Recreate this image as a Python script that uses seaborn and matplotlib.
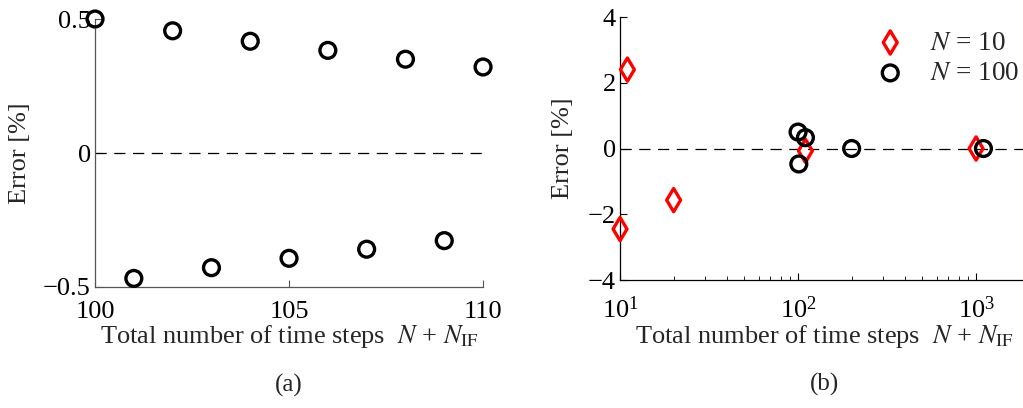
import numpy as np
import pandas as pd
import matplotlib
matplotlib.use("Agg")
import matplotlib.pyplot as plt
import matplotlib.ticker as mticker
import seaborn as sns

# Panel (a): error vs. total number of time steps (N = 100)
steps_a = [100, 101, 102, 103, 104, 105, 106, 107, 108, 109, 110]
error_a = [0.50, -0.468, 0.456, -0.428, 0.417, -0.393, 0.383, -0.359, 0.350, -0.327, 0.321]

# Panel (b): log-scale overview for two values of N
steps_n10 = [10, 11, 20, 110, 1000]
error_n10 = [-2.45, 2.40, -1.57, -0.07, 0.0]
steps_n100 = [100, 101, 110, 200, 1100]
error_n100 = [0.50, -0.47, 0.33, 0.0, 0.0]

sns.set_theme(style="white")
plt.rcParams["font.family"] = ["Liberation Serif", "DejaVu Serif"]
plt.rcParams["mathtext.fontset"] = "stix"

fig = plt.figure(figsize=(10.23, 4.08), dpi=100)
ax_a = fig.add_axes([0.0929, 0.2966, 0.3793, 0.6568])
ax_b = fig.add_axes([0.6061, 0.3137, 0.4004, 0.6446])

xlabel = r"Total number of time steps  $N$ + $N_{\mathrm{IF}}$"
tick_fs = 19
label_fs = 19

# ---- panel (a)
df_a = pd.DataFrame({"steps": steps_a, "error": error_a})
ax_a.axhline(0, color="black", lw=0.9, ls=(0, (9, 6)), zorder=1)
sns.scatterplot(data=df_a, x="steps", y="error", ax=ax_a, marker="o", s=130,
                facecolors="none", edgecolor="black", linewidth=2.4,
                clip_on=False, zorder=3, legend=False)
ax_a.set_xlim(100, 110)
ax_a.set_ylim(-0.5, 0.5)
ax_a.set_xticks([100, 105, 110])
ax_a.set_yticks([-0.5, 0, 0.5])
ax_a.yaxis.set_major_formatter(mticker.FuncFormatter(
    lambda v, p: "0" if abs(v) < 1e-9 else f"{v:.1f}".replace("-", "\u2212")))
ax_a.set_ylabel("Error [%]", fontsize=label_fs, labelpad=9)
ax_a.text(0.5, -0.366, "(a)", transform=ax_a.transAxes, ha="center", va="center",
          fontsize=18)

# ---- panel (b)
df_b = pd.concat([
    pd.DataFrame({"steps": steps_n10, "error": error_n10, "series": "N = 10"}),
    pd.DataFrame({"steps": steps_n100, "error": error_n100, "series": "N = 100"}),
])
ax_b.axhline(0, color="black", lw=0.9, ls=(0, (9, 6)), zorder=1)
sns.scatterplot(data=df_b[df_b.series == "N = 10"], x="steps", y="error", ax=ax_b,
                marker="d", s=140, facecolors="none", edgecolor="red",
                linewidth=2.4, clip_on=False, zorder=3, label=r"$N$ = 10")
sns.scatterplot(data=df_b[df_b.series == "N = 100"], x="steps", y="error", ax=ax_b,
                marker="o", s=130, facecolors="none", edgecolor="black",
                linewidth=2.4, clip_on=False, zorder=3, label=r"$N$ = 100")
ax_b.set_xscale("log")
ax_b.set_xlim(10, 2000)
ax_b.set_ylim(-4, 4)
ax_b.set_xticks([10, 100, 1000])
ax_b.xaxis.set_major_formatter(mticker.LogFormatterMathtext())
ax_b.set_yticks([-4, -2, 0, 2, 4])
ax_b.yaxis.set_major_formatter(mticker.FuncFormatter(
    lambda v, p: f"{int(v)}".replace("-", "\u2212")))
ax_b.set_ylabel("Error [%]", fontsize=label_fs, labelpad=10)
ax_b.text(0.5, -0.399, "(b)", transform=ax_b.transAxes, ha="center", va="center",
          fontsize=18)
leg = ax_b.legend(loc="upper left", bbox_to_anchor=(0.857, 0.925),
                  bbox_transform=fig.transFigure, frameon=False,
                  fontsize=19.5, handlelength=1.0, handletextpad=0.95,
                  labelspacing=0.2, borderpad=0, borderaxespad=0)

for ax, spine_color in ((ax_a, "#555555"), (ax_b, "black")):
    for side in ("top", "right"):
        ax.spines[side].set_visible(False)
    for side in ("left", "bottom"):
        ax.spines[side].set_color(spine_color)
        ax.spines[side].set_linewidth(0.9)
    ax.tick_params(axis="both", which="both", direction="in", labelsize=tick_fs,
                   color=spine_color, labelcolor="black")
    ax.tick_params(which="major", length=5, width=0.8)
    ax.tick_params(which="minor", length=3, width=0.6)
    ax.tick_params(axis="y", pad=3)
ax_a.tick_params(axis="x", pad=10)
ax_b.tick_params(axis="x", which="both", pad=12)
ax_a.set_xlabel(xlabel, fontsize=label_fs, labelpad=0)
ax_b.set_xlabel(xlabel, fontsize=label_fs, labelpad=0)
ax_a.xaxis.set_minor_locator(mticker.NullLocator())
ax_a.yaxis.set_minor_locator(mticker.NullLocator())
ax_b.xaxis.set_minor_locator(mticker.LogLocator(base=10, subs=np.arange(2, 10)))
ax_b.xaxis.set_minor_formatter(mticker.NullFormatter())
ax_b.tick_params(axis="x", which="minor", bottom=True)
ax_b.tick_params(axis="both", which="major", left=True, bottom=True)
ax_a.tick_params(axis="both", which="major", left=True, bottom=True)

fig.savefig("out.png", dpi=100, facecolor="white")
